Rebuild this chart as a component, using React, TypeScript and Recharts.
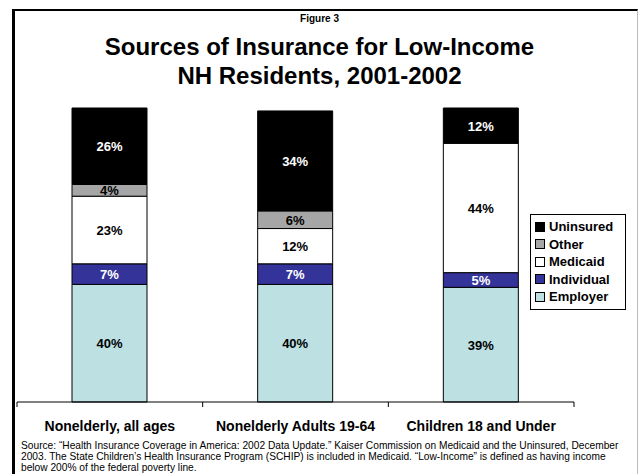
import React from 'react';
import { BarChart, Bar, XAxis, YAxis, LabelList } from 'recharts';

const categories = ['Nonelderly, all ages', 'Nonelderly Adults 19-64', 'Children 18 and Under'];
const employer = [40, 40, 39];
const individual = [7, 7, 5];
const medicaid = [23, 12, 44];
const other = [4, 6, null];
const uninsured = [26, 34, 12];

const footnote = [
  'Source: “Health Insurance Coverage in America: 2002 Data Update.” Kaiser Commission on Medicaid and the Uninsured, December',
  '2003. The State Children’s Health Insurance Program (SCHIP) is included in Medicaid. “Low-Income” is defined as having income',
  'below 200% of the federal poverty line.',
];

const data = categories.map((name, i) => ({
  name,
  Employer: employer[i],
  Individual: individual[i],
  Medicaid: medicaid[i],
  Other: other[i],
  Uninsured: uninsured[i],
}));

const series = [
  { key: 'Employer', color: '#bde0e3', label: '#000' },
  { key: 'Individual', color: '#333399', label: '#fff' },
  { key: 'Medicaid', color: '#ffffff', label: '#000' },
  { key: 'Other', color: '#a6a6a6', label: '#000' },
  { key: 'Uninsured', color: '#000000', label: '#fff' },
];

const FONT = '"Liberation Sans", Arial, sans-serif';
const W = 639;
const H = 474;
const margin = { top: 108, right: 65, bottom: 32, left: 17 };

const PctLabel = (color: string) => (props: any) => {
  const { x, y, width, height, value } = props;
  if (value == null || value === 0) return null;
  return (
    <text x={x + width / 2} y={y + height / 2} dy={5} textAnchor="middle" fill={color}
      fontFamily={FONT} fontWeight="bold" fontSize={13}>
      {value}%
    </text>
  );
};

const CategoryTick = (props: any) => {
  const { x, y, payload, index } = props;
  const band = (W - margin.left - margin.right) / categories.length;
  return (
    <g>
      <line x1={x - band / 2} x2={x - band / 2} y1={y - 8} y2={y - 3} stroke="#000" />
      {index === categories.length - 1 && (
        <line x1={x + band / 2} x2={x + band / 2} y1={y - 8} y2={y - 3} stroke="#000" />
      )}
      <text x={x} y={y + 21} textAnchor="middle" fontFamily={FONT} fontWeight="bold" fontSize={14} fill="#000">
        {payload.value}
      </text>
    </g>
  );
};

const LegendBox = () => (
  <div style={{ position: 'absolute', left: 530, top: 214, width: 90, border: '1px solid #000', padding: '3px 0 3px 4px', background: '#fff', fontFamily: FONT, fontWeight: 'bold', fontSize: 13 }}>
    {[...series].reverse().map((s) => (
      <div key={s.key} style={{ display: 'flex', alignItems: 'center', height: 17.5 }}>
        <span style={{ width: 8, height: 8, background: s.color, border: '1px solid #000', marginRight: 4 }} />
        <span>{s.key}</span>
      </div>
    ))}
  </div>
);

export default function App() {
  return (
    <div style={{ position: 'absolute', left: 0, top: 0, width: W, height: H, overflow: 'hidden', background: '#fff' }}>
      <div style={{ position: 'absolute', left: 12, top: 9, width: 622, height: 500, borderLeft: '3px solid #000', borderTop: '2px solid #000', borderRight: '1px solid #bbb' }} />
      <div style={{ position: 'absolute', left: 0, width: W, top: 13, textAlign: 'center', fontFamily: FONT, fontWeight: 'bold', fontSize: 10 }}>
        Figure 3
      </div>
      <div style={{ position: 'absolute', left: 0, width: W, top: 32, textAlign: 'center', fontFamily: FONT, fontWeight: 'bold', fontSize: 24, lineHeight: '29px' }}>
        Sources of Insurance for Low-Income<br />NH Residents, 2001-2002
      </div>
      <div style={{ position: 'absolute', left: 0, top: 0 }}>
        <BarChart width={W} height={H} data={data} margin={margin} barSize={75}>
          <XAxis dataKey="name" height={40} axisLine={{ stroke: '#000' }} tickLine={false} tick={<CategoryTick />} interval={0} />
          <YAxis hide domain={[0, 100]} />
          {series.map((s) => (
            <Bar key={s.key} dataKey={s.key} stackId="a" fill={s.color} stroke="#000" strokeWidth={1} isAnimationActive={false}>
              <LabelList dataKey={s.key} content={PctLabel(s.label)} />
            </Bar>
          ))}
        </BarChart>
      </div>
      <LegendBox />
      <div style={{ position: 'absolute', left: 21, top: 440, fontFamily: FONT, fontSize: 10.2, lineHeight: '11px', color: '#000', whiteSpace: 'nowrap' }}>
        {footnote.map((line, i) => (
          <div key={i}>{line}</div>
        ))}
      </div>
    </div>
  );
}
